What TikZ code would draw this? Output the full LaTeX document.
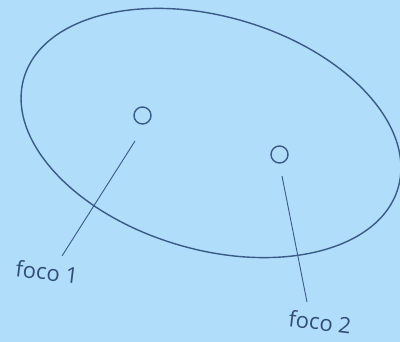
\documentclass[tikz,border=0pt]{standalone}
\usepackage{fontspec}
\setmainfont{Open Sans}
\definecolor{bgblue}{RGB}{176,221,250}
\definecolor{inkblue}{RGB}{58,90,135}
\definecolor{txtblue}{RGB}{50,78,118}
\begin{document}
\begin{tikzpicture}[x=1pt,y=-1pt,
  curve/.style={draw=inkblue,line width=1.4pt},
  leader/.style={draw=inkblue,line width=0.9pt},
  focus/.style={circle,draw=inkblue,line width=1.4pt,minimum size=17pt,inner sep=0pt},
  lab/.style={text=txtblue,font=\fontsize{22}{26}\selectfont,inner sep=0pt}]
\fill[bgblue] (0,0) rectangle (400,342);
\useasboundingbox (0,0) rectangle (400,342);
\draw[curve] (211,133) ellipse [x radius=195, y radius=116.5, rotate=-16.4];
\node[focus] (f1) at (142.5,115.5) {};
\node[focus] (f2) at (279.5,154.5) {};
\coordinate (a1) at (135,141);
\coordinate (b1) at (62,256);
\coordinate (a2) at (282,176);
\coordinate (b2) at (307,302);
\draw[leader] (a1) -- (b1);
\draw[leader] (a2) -- (b2);
\node[lab,rotate=-7] (l1) at (47,272) {foco 1};
\node[lab,rotate=-7] (l2) at (320,322) {foco 2};
\end{tikzpicture}
\end{document}
